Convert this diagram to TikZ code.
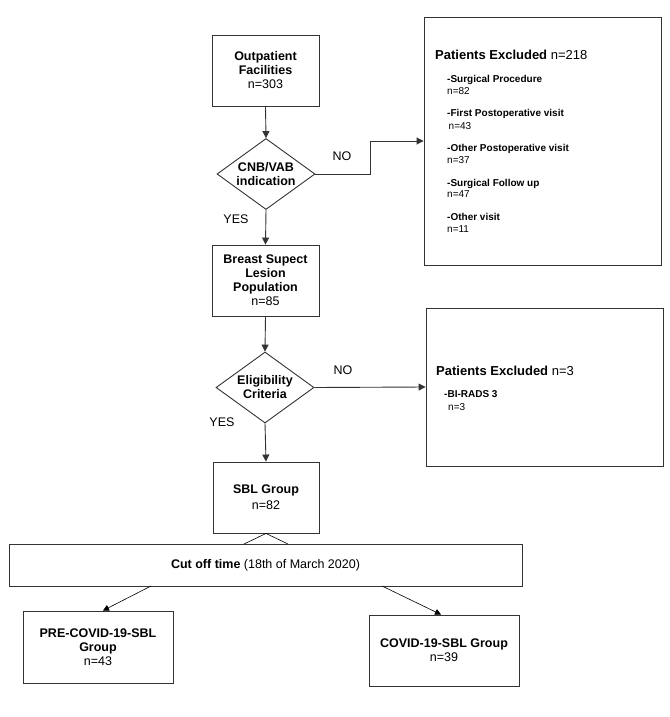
\documentclass[tikz,border=0pt]{standalone}
\usepackage{fontspec}
\setmainfont{Liberation Sans}
\usetikzlibrary{arrows.meta,shapes.geometric,calc}
\begin{document}
\begin{tikzpicture}[x=1pt,y=-1pt,
  box/.style={draw=black!80, line width=0.9pt, rectangle, align=center,
    font=\bfseries\fontsize{12.5}{14}\selectfont, inner sep=0pt},
  dia/.style={draw=black!80, line width=0.9pt, diamond, minimum width=98pt,
    minimum height=71pt, inner sep=0pt},
  dtxt/.style={align=center, font=\bfseries\fontsize{12.5}{14}\selectfont, inner sep=0pt},
  arr/.style={draw=black!80, line width=0.9pt, -{Triangle[length=7pt,width=7pt]}},
  thinarr/.style={draw=black, line width=0.6pt, -{Triangle[length=6pt,width=6pt]}},
  thinline/.style={draw=black, line width=0.6pt},
  lbl/.style={font=\fontsize{12.5}{14}\selectfont, inner sep=0pt},
  ttl/.style={font=\fontsize{13}{15}\selectfont, anchor=base west, inner sep=0pt},
  itm/.style={font=\bfseries\fontsize{10}{12}\selectfont, anchor=base west, inner sep=0pt},
  itn/.style={font=\fontsize{10}{12}\selectfont, anchor=base west, inner sep=0pt},
]
\useasboundingbox[fill=white] (0,0) rectangle (669,717);

% main column
\node[box, minimum width=107pt, minimum height=71pt] (outp) at (265.5,70.5)
  {Outpatient\\Facilities\\\mdseries n=303};
\node[dia] (d1) at (266,174) {};
\node[dtxt] (d1t) at (d1.center) {CNB/VAB\\indication};
\node[box, minimum width=107pt, minimum height=71pt] (br) at (265.5,280.5)
  {Breast Supect\\Lesion\\Population\\\mdseries n=85};
\node[dia] (d2) at (265,387.5) {};
\node[dtxt] (d2t) at (d2.center) {Eligibility\\Criteria};
\node[box, minimum width=106pt, minimum height=71pt] (sbl) at (266,497.5)
  {SBL Group\\[2pt]\mdseries n=82};

% exclusion boxes
\node[box, minimum width=237pt, minimum height=248pt] (ex1) at (542.5,141) {};
\node[box, minimum width=237pt, minimum height=158pt] (ex2) at (544.5,387) {};

\node[ttl] (ex1t) at (435,59.5) {\textbf{Patients Excluded} n=218};
\node[itm] (e1a) at (447,82.5)  {-Surgical Procedure};
\node[itn] (e1b) at (447,94.5)  {n=82};
\node[itm] (e2a) at (447,116.5) {-First Postoperative visit};
\node[itn] (e2b) at (448.5,129.5) {n=43};
\node[itm] (e3a) at (447,151.5) {-Other Postoperative visit};
\node[itn] (e3b) at (447,163.5) {n=37};
\node[itm] (e4a) at (447,186.5) {-Surgical Follow up};
\node[itn] (e4b) at (447,197.5) {n=47};
\node[itm] (e5a) at (447,220.5) {-Other visit};
\node[itn] (e5b) at (447,232.5) {n=11};

\node[ttl] (ex2t) at (436,375.5) {\textbf{Patients Excluded} n=3};
\node[itm] (f1a) at (444,397.5) {-BI-RADS 3};
\node[itn] (f1b) at (448,410.5) {n=3};

% cut off and groups
\node[box, minimum width=513pt, minimum height=42pt, font=\fontsize{12.5}{14}\selectfont] (cut) at (265.5,565)
  {\textbf{Cut off time} (18th of March 2020)};
\node[box, minimum width=150pt, minimum height=72pt] (pre) at (98,647)
  {PRE-COVID-19-SBL\\Group\\\mdseries n=43};
\node[box, minimum width=150pt, minimum height=71pt] (cov) at (444,650.5)
  {COVID-19-SBL Group\\\mdseries n=39};

% connectors
\draw[arr] (outp.south) -- (d1.north);
\draw[arr] (d1.east) -- ++(55,0) |- (ex1.west);
\draw[arr] (d1.south) -- (br.north);
\draw[arr] (br.south) -- (d2.north);
\draw[arr] (d2.east) -- (ex2.west);
\draw[arr] (d2.south) -- (sbl.north);

\coordinate (vl) at (244,544);
\coordinate (vr) at (288,544);
\draw[thinline] (vl) -- (sbl.south) -- (vr);

\coordinate (c1) at (151,586);
\coordinate (c2) at (382,586);
\draw[thinarr] (c1) -- ($(pre.north)+(5,0)$);
\draw[thinarr] (c2) -- ($(cov.north)+(-3,0)$);

% labels
\node[lbl] (no1) at (342,156) {NO};
\node[lbl] (yes1) at (236,219) {YES};
\node[lbl] (no2) at (343,370) {NO};
\node[lbl] (yes2) at (222,422) {YES};
\end{tikzpicture}
\end{document}
